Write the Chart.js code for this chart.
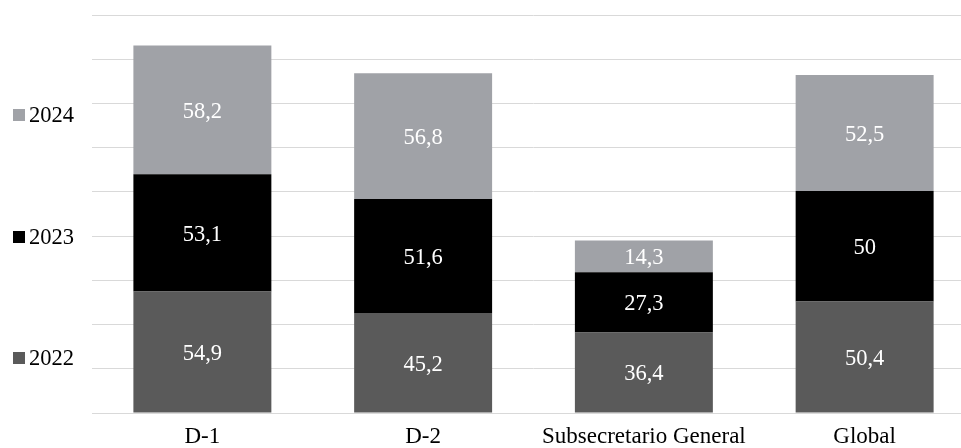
<!DOCTYPE html>
<html>
<head>
<meta charset="utf-8">
<script src="https://cdn.jsdelivr.net/npm/chart.js@4/dist/chart.umd.min.js"></script>
<style>
html,body{margin:0;padding:0;background:#fff;overflow:hidden;}
#wrap{width:980px;height:448px;}
</style>
</head>
<body>
<div id="wrap"><canvas id="c" width="980" height="448"></canvas></div>
<script>
const categories = ["D-1", "D-2", "Subsecretario General", "Global"];
const seriesNames = ["2022", "2023", "2024"];
const values2022 = [54.9, 45.2, 36.4, 50.4];
const values2023 = [53.1, 51.6, 27.3, 50];
const values2024 = [58.2, 56.8, 14.3, 52.5];
const colors = ["#5a5a5a", "#000000", "#a0a2a7"];
const FONT = "'Liberation Serif', 'Times New Roman', serif";

const fmt = v => String(v).replace('.', ',');

const labelPlugin = {
  id: 'segLabels',
  afterDatasetsDraw(chart) {
    const ctx = chart.ctx;
    ctx.save();
    ctx.font = "22.5px " + FONT;
    ctx.fillStyle = "#ffffff";
    ctx.textAlign = "center";
    ctx.textBaseline = "middle";
    chart.data.datasets.forEach((ds, i) => {
      const meta = chart.getDatasetMeta(i);
      meta.data.forEach((bar, j) => {
        const p = bar.getProps(['x', 'y', 'base'], true);
        ctx.fillText(fmt(ds.data[j]), p.x, (p.y + p.base) / 2 + 2);
      });
    });
    ctx.restore();
  }
};

const legendPlugin = {
  id: 'leftLegend',
  afterDraw(chart) {
    const ctx = chart.ctx;
    const ys = [358, 237, 115];
    ctx.save();
    ctx.font = "22.5px " + FONT;
    ctx.textBaseline = "middle";
    ctx.textAlign = "left";
    chart.data.datasets.forEach((ds, i) => {
      const y = ys[i];
      ctx.fillStyle = ds.backgroundColor;
      ctx.fillRect(13, y - 6, 12, 12);
      ctx.fillStyle = "#000";
      ctx.fillText(ds.label, 29, y + 1);
    });
    ctx.restore();
  }
};

new Chart(document.getElementById('c'), {
  type: 'bar',
  data: {
    labels: categories,
    datasets: [
      { label: seriesNames[0], data: values2022, backgroundColor: colors[0] },
      { label: seriesNames[1], data: values2023, backgroundColor: colors[1] },
      { label: seriesNames[2], data: values2024, backgroundColor: colors[2] }
    ]
  },
  options: {
    responsive: false,
    animation: false,
    layout: { padding: { left: 92, right: 5, top: 15, bottom: 2 } },
    datasets: { bar: { barPercentage: 0.625, categoryPercentage: 1.0, borderWidth: 0 } },
    plugins: { legend: { display: false }, tooltip: { enabled: false } },
    scales: {
      x: {
        stacked: true,
        grid: { display: false, drawTicks: false, tickLength: 0 },
        border: { display: true, color: "#d9d9d9", width: 1 },
        ticks: { color: "#000", font: { family: FONT, size: 23, lineHeight: 1 }, padding: 12, maxRotation: 0 },
        afterFit(scale) { scale.height = 33; }
      },
      y: {
        stacked: true,
        min: 0, max: 180,
        ticks: { display: false, stepSize: 20 },
        grid: { color: "#d9d9d9", lineWidth: 1, drawTicks: false },
        border: { display: false }
      }
    }
  },
  plugins: [labelPlugin, legendPlugin]
});
</script>
</body>
</html>
